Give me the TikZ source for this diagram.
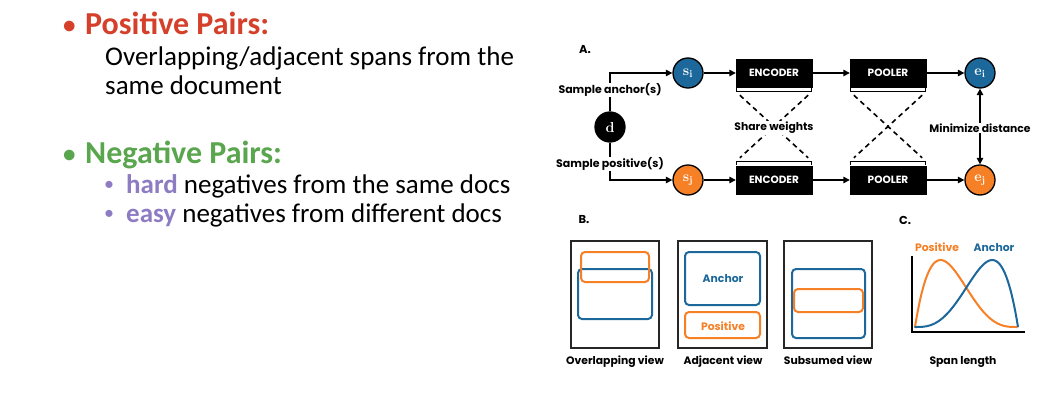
\documentclass[tikz,border=0pt]{standalone}
\usepackage[no-math]{fontspec}
\setmainfont{Carlito}
\newfontfamily\pop{Poppins}
\usetikzlibrary{arrows.meta}
\definecolor{hred}{RGB}{212,64,42}
\definecolor{hgreen}{RGB}{90,166,78}
\definecolor{hpurple}{RGB}{142,124,195}
\definecolor{cblue}{RGB}{28,104,155}
\definecolor{corange}{RGB}{246,128,38}
\tikzset{
  txt/.style={inner sep=0pt, anchor=base west},
  lab/.style={font=\pop\bfseries\fontsize{10.8}{12}\selectfont, inner sep=1pt},
  circ/.style={circle, draw=black, line width=1.3pt, minimum size=30pt, inner sep=0pt, text=white, font=\fontsize{14}{15}\selectfont\boldmath},
  blk/.style={fill=black, draw=black, minimum width=76pt, minimum height=28pt, inner sep=0pt, text=white, font=\pop\bfseries\fontsize{10.5}{12}\selectfont},
  arr/.style={-{Triangle[length=6.5pt,width=6.5pt]}, line width=1.4pt},
  dsh/.style={line width=1.6pt, dash pattern=on 5pt off 4pt},
  brk/.style={line width=0.8pt},
  doc/.style={line width=2.2pt, draw=black!85},
  rb/.style={line width=2pt, draw=cblue, rounded corners=4pt},
  ro/.style={line width=2pt, draw=corange, rounded corners=4pt},
}
\begin{document}
\begin{tikzpicture}[x=1pt,y=-1pt]
\useasboundingbox (0,0) rectangle (1061,396);
% ---------- left text ----------
\node[txt] (b1) at (63,34) {\fontsize{25}{30}\selectfont\color{hred}\bfseries •};
\node[txt] (t1) at (85,35) {\fontsize{32}{36}\selectfont\color{hred}\bfseries Positive Pairs:};
\node[txt] (t2) at (105,66) {\fontsize{27}{30}\selectfont Overlapping/adjacent spans from the};
\node[txt] (t3) at (105,95) {\fontsize{27}{30}\selectfont same document};
\node[txt] (b2) at (63,162) {\fontsize{25}{30}\selectfont\color{hgreen}\bfseries •};
\node[txt] (t4) at (85,163) {\fontsize{32}{36}\selectfont\color{hgreen}\bfseries Negative Pairs:};
\node[txt] (b3) at (104,190) {\fontsize{20}{30}\selectfont\color{hpurple}•};
\node[txt] (t5) at (126,193) {\fontsize{27}{30}\selectfont{\color{hpurple}\bfseries hard} negatives from the same docs};
\node[txt] (b4) at (104,219) {\fontsize{20}{30}\selectfont\color{hpurple}•};
\node[txt] (t6) at (126,222) {\fontsize{27}{30}\selectfont{\color{hpurple}\bfseries easy} negatives from different docs};
% ---------- panel A ----------
\node[lab, font=\pop\bfseries\fontsize{11.5}{12}\selectfont] (A) at (585,50) {A.};
\node[circ, fill=black] (d) at (610,127) {$\mathrm{d}$};
\node[circ, fill=cblue] (si) at (688,73) {$\mathrm{s}_\mathrm{i}$};
\node[circ, fill=corange] (sj) at (688,180) {$\mathrm{s}_\mathrm{j}$};
\node[blk] (enc1) at (774,73) {ENCODER};
\node[blk] (pool1) at (888,73) {POOLER};
\node[blk] (enc2) at (774,180) {ENCODER};
\node[blk] (pool2) at (888,180) {POOLER};
\node[circ, fill=cblue] (ei) at (980,73) {$\mathrm{e}_\mathrm{i}$};
\node[circ, fill=corange] (ej) at (980,180) {$\mathrm{e}_\mathrm{j}$};
% brackets
\foreach \b in {enc1,pool1}{
  \draw[brk] ([xshift=1pt,yshift=-1pt]\b.south west) -- ([xshift=1pt,yshift=-4pt]\b.south west) -- ([xshift=-1pt,yshift=-4pt]\b.south east) -- ([xshift=-1pt,yshift=-1pt]\b.south east);
}
\foreach \b in {enc2,pool2}{
  \draw[brk] ([xshift=1pt,yshift=1pt]\b.north west) -- ([xshift=1pt,yshift=4pt]\b.north west) -- ([xshift=-1pt,yshift=4pt]\b.north east) -- ([xshift=-1pt,yshift=1pt]\b.north east);
}
% dashed crosses
\draw[dsh] ([xshift=4pt,yshift=-8pt]enc1.south west) -- ([xshift=-4pt,yshift=8pt]enc2.north east);
\draw[dsh] ([xshift=-4pt,yshift=-8pt]enc1.south east) -- ([xshift=4pt,yshift=8pt]enc2.north west);
\draw[dsh] ([xshift=4pt,yshift=-8pt]pool1.south west) -- ([xshift=-4pt,yshift=8pt]pool2.north east);
\draw[dsh] ([xshift=-4pt,yshift=-8pt]pool1.south east) -- ([xshift=4pt,yshift=8pt]pool2.north west);
\node[lab, fill=white] (sw) at (774,128) {Share weights};
% arrows
\draw[arr] (d.north) |- (si.west);
\draw[arr] (d.south) |- (sj.west);
\draw[arr] (si) -- (enc1);
\draw[arr] (enc1) -- (pool1);
\draw[arr] (pool1) -- (ei);
\draw[arr] (sj) -- (enc2);
\draw[arr] (enc2) -- (pool2);
\draw[arr] (pool2) -- (ej);
\draw[arr, {Triangle[length=6.5pt,width=6.5pt]}-{Triangle[length=6.5pt,width=6.5pt]}] (ei) -- (ej);
\node[lab, fill=white, font=\pop\bfseries\fontsize{11}{12}\selectfont] (sa) at (610,90) {Sample anchor(s)};
\node[lab, fill=white, font=\pop\bfseries\fontsize{11}{12}\selectfont] (sp) at (610,164) {Sample positive(s)};
\node[lab, fill=white] (md) at (980,128) {Minimize distance};
% ---------- panel B ----------
\node[lab, font=\pop\bfseries\fontsize{11.5}{12}\selectfont] (B) at (584,220) {B.};
\draw[doc] (571,241) rectangle (659,348);
\draw[rb] (578,269) rectangle (652,319);
\draw[ro] (581,252) rectangle (649,282);
\draw[doc] (678,241) rectangle (767,348);
\draw[rb] (685,252) rectangle (760,305);
\draw[ro] (685,312) rectangle (760,338);
\node[lab, text=cblue] (an) at (723,279) {Anchor};
\node[lab, text=corange] (po) at (723,326) {Positive};
\draw[doc] (784,241) rectangle (872,348);
\draw[rb] (792,269) rectangle (865,338);
\draw[ro] (794,289) rectangle (863,312);
\node[lab, anchor=base] (l1) at (615,364) {Overlapping view};
\node[lab, anchor=base] (l2) at (723,364) {Adjacent view};
\node[lab, anchor=base] (l3) at (828,364) {Subsumed view};
% ---------- panel C ----------
\node[lab, font=\pop\bfseries\fontsize{11.5}{12}\selectfont] (C) at (905,220) {C.};
\draw[corange, line width=2pt, line cap=round] plot[domain=0:1, samples=80, smooth] ({915+102*\x},{327-67*\x*(1-\x)^3/0.1055});
\draw[cblue, line width=2pt, line cap=round] plot[domain=0:1, samples=80, smooth] ({915+103*\x},{327-67*(\x^3)*(1-\x)/0.1055});
\draw[line width=2pt] (912,256) -- (912,332) -- (1025,332);
\node[lab, anchor=base, text=corange] (cp) at (937,251) {Positive};
\node[lab, anchor=base, text=cblue] (ca) at (994,251) {Anchor};
\node[lab, anchor=base] (sl) at (963,364) {Span length};
\end{tikzpicture}
\end{document}
